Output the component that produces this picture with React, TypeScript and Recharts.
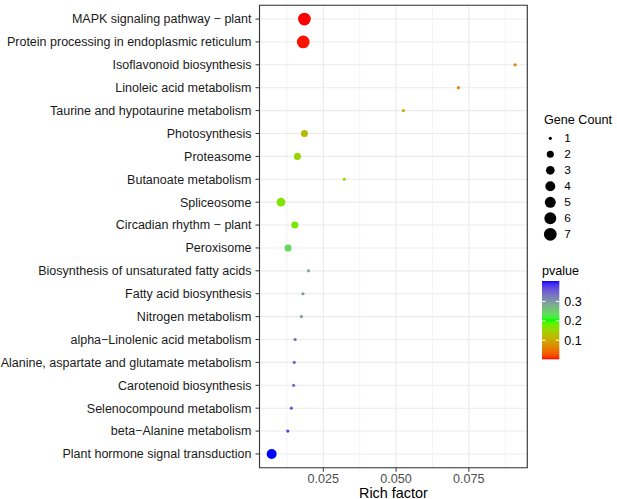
import React from 'react';
import {
  ScatterChart,
  Scatter,
  XAxis,
  YAxis,
  CartesianGrid,
  ReferenceArea,
  Customized,
} from 'recharts';

// KEGG pathway terms, listed top to bottom
const pathways: string[] = [
  'MAPK signaling pathway − plant',
  'Protein processing in endoplasmic reticulum',
  'Isoflavonoid biosynthesis',
  'Linoleic acid metabolism',
  'Taurine and hypotaurine metabolism',
  'Photosynthesis',
  'Proteasome',
  'Butanoate metabolism',
  'Spliceosome',
  'Circadian rhythm − plant',
  'Peroxisome',
  'Biosynthesis of unsaturated fatty acids',
  'Fatty acid biosynthesis',
  'Nitrogen metabolism',
  'alpha−Linolenic acid metabolism',
  'Alanine, aspartate and glutamate metabolism',
  'Carotenoid biosynthesis',
  'Selenocompound metabolism',
  'beta−Alanine metabolism',
  'Plant hormone signal transduction',
];

const richFactor: number[] = [
  0.0185, 0.0181, 0.0909, 0.0714, 0.0525, 0.0185, 0.0161, 0.0322, 0.01045, 0.0152,
  0.0129, 0.0199, 0.018, 0.01745, 0.0153, 0.015, 0.0148, 0.014, 0.0128, 0.00725,
];

const geneCount: number[] = [7, 7, 1, 1, 1, 2, 2, 1, 3, 2, 2, 1, 1, 1, 1, 1, 1, 1, 1, 4];

const pvalue: number[] = [
  0.002, 0.004, 0.062, 0.066, 0.105, 0.121, 0.153, 0.16, 0.171, 0.175,
  0.24, 0.284, 0.298, 0.295, 0.34, 0.342, 0.342, 0.355, 0.379, 0.405,
];

const xTicks: number[] = [0.025, 0.05, 0.075];
const xMinorTicks: number[] = [0.0125, 0.0375, 0.0625, 0.0875];
const sizeBreaks: number[] = [1, 2, 3, 4, 5, 6, 7];
const pvalueBreaks: number[] = [0.1, 0.2, 0.3];
const gradientColours: string[] = ['#FF0000', '#00FF00', '#0000FF'];

const FONT = '"Liberation Sans", Arial, Helvetica, sans-serif';

// ---- colour ramp interpolated in CIELAB ----
type Lab = [number, number, number];
const toLin = (c: number) => {
  const v = c / 255;
  return v <= 0.04045 ? v / 12.92 : Math.pow((v + 0.055) / 1.055, 2.4);
};
const fromLin = (c: number) => {
  const v = c <= 0.0031308 ? 12.92 * c : 1.055 * Math.pow(c, 1 / 2.4) - 0.055;
  return Math.round(Math.max(0, Math.min(1, v)) * 255);
};
const Xn = 0.95047, Yn = 1, Zn = 1.08883;
const fLab = (t: number) => (t > 0.008856 ? Math.cbrt(t) : 7.787 * t + 16 / 116);
const fInv = (t: number) => (t * t * t > 0.008856 ? t * t * t : (t - 16 / 116) / 7.787);

function hexToLab(hex: string): Lab {
  const r = toLin(parseInt(hex.slice(1, 3), 16));
  const g = toLin(parseInt(hex.slice(3, 5), 16));
  const b = toLin(parseInt(hex.slice(5, 7), 16));
  const X = 0.4124 * r + 0.3576 * g + 0.1805 * b;
  const Y = 0.2126 * r + 0.7152 * g + 0.0722 * b;
  const Z = 0.0193 * r + 0.1192 * g + 0.9505 * b;
  const fx = fLab(X / Xn), fy = fLab(Y / Yn), fz = fLab(Z / Zn);
  return [116 * fy - 16, 500 * (fx - fy), 200 * (fy - fz)];
}

function labToHex([L, a, b]: Lab): string {
  const fy = (L + 16) / 116;
  const fx = fy + a / 500;
  const fz = fy - b / 200;
  const X = Xn * fInv(fx), Y = Yn * fInv(fy), Z = Zn * fInv(fz);
  const r = 3.2406 * X - 1.5372 * Y - 0.4986 * Z;
  const g = -0.9689 * X + 1.8758 * Y + 0.0415 * Z;
  const bl = 0.0557 * X - 0.204 * Y + 1.057 * Z;
  const h = (v: number) => fromLin(v).toString(16).padStart(2, '0');
  return '#' + h(r) + h(g) + h(bl);
}

const labStops = gradientColours.map(hexToLab);
const pMin = Math.min(...pvalue);
const pMax = Math.max(...pvalue);

function pColour(p: number): string {
  const t = Math.max(0, Math.min(1, (p - pMin) / (pMax - pMin)));
  const seg = t * (labStops.length - 1);
  const i = Math.min(labStops.length - 2, Math.floor(seg));
  const f = seg - i;
  const A = labStops[i], B = labStops[i + 1];
  return labToHex([A[0] + (B[0] - A[0]) * f, A[1] + (B[1] - A[1]) * f, A[2] + (B[2] - A[2]) * f]);
}

// ---- point size by gene count (area scale) ----
const cMin = Math.min(...geneCount);
const cMax = Math.max(...geneCount);
function radius(c: number): number {
  const d = 3.2 + 9.5 * Math.sqrt((c - cMin) / (cMax - cMin));
  return d / 2;
}

// ---- data table ----
const n = pathways.length;
const points = pathways.map((name, i) => ({
  name,
  x: richFactor[i],
  y: n - i,
  count: geneCount[i],
  p: pvalue[i],
}));

const xLo = Math.min(...richFactor);
const xHi = Math.max(...richFactor);
const xPad = (xHi - xLo) * 0.05;
const xDomain: [number, number] = [xLo - xPad, xHi + xPad];
const yDomain: [number, number] = [0.4, n + 0.6];
const yTicks = pathways.map((_, i) => n - i);

const W = 617;
const H = 499;
const margin = { top: 5.3, right: 89.7, bottom: 0, left: 0 };

function Dot(props: any) {
  const { cx, cy, payload } = props;
  if (cx == null || cy == null) return null;
  return <circle cx={cx} cy={cy} r={radius(payload.count)} fill={pColour(payload.p)} />;
}

// single-line category label, right-aligned against the tick
function PathwayTick(props: any) {
  const { x, y, payload } = props;
  return (
    <text x={x} y={y} dy="0.35em" textAnchor="end" fontSize={12.5} fill="#1A1A1A" fontFamily={FONT}>
      {pathways[n - payload.value]}
    </text>
  );
}

// Gene Count and pvalue guides
function Guides() {
  const keyX = 550.3;
  const labelX = 564.3;
  const rowTop = 138.3;
  const rowStep = 16;
  const barX = 542;
  const barW = 17.3;
  const barTop = 281;
  const barH = 78.3;
  const barY = (v: number) => barTop + barH - ((v - pMin) / (pMax - pMin)) * barH;
  const stops = Array.from({ length: 41 }, (_, k) => k / 40);
  return (
    <g fontFamily={FONT}>
      <defs>
        <linearGradient id="pgrad" x1="0" y1="1" x2="0" y2="0">
          {stops.map((s) => (
            <stop key={s} offset={s} stopColor={pColour(pMin + s * (pMax - pMin))} />
          ))}
        </linearGradient>
      </defs>
      <text x={544} y={120} dy="0.35em" fontSize={12.6} fill="#000">
        Gene Count
      </text>
      {sizeBreaks.map((c, i) => (
        <g key={c}>
          <circle cx={keyX} cy={rowTop + i * rowStep} r={radius(c)} fill="#000" />
          <text x={labelX} y={rowTop + i * rowStep} dy="0.35em" fontSize={11.8} fill="#000">
            {c}
          </text>
        </g>
      ))}
      <text x={542} y={271} dy="0.35em" fontSize={12.6} fill="#000">
        pvalue
      </text>
      <rect x={barX} y={barTop} width={barW} height={barH} fill="url(#pgrad)" />
      {pvalueBreaks.map((v) => (
        <g key={v}>
          <line x1={barX} x2={barX + 3.5} y1={barY(v)} y2={barY(v)} stroke="#fff" strokeWidth={1} />
          <line x1={barX + barW - 3.5} x2={barX + barW} y1={barY(v)} y2={barY(v)} stroke="#fff" strokeWidth={1} />
          <text x={labelX} y={barY(v)} dy="0.35em" fontSize={12.5} fill="#000">
            {v.toFixed(1)}
          </text>
        </g>
      ))}
    </g>
  );
}

export default function App() {
  return (
    <div style={{ position: 'absolute', left: 0, top: 0, width: W, height: H, background: '#fff' }}>
      <ScatterChart width={W} height={H} margin={margin} style={{ fontFamily: FONT }}>
        <CartesianGrid
          xAxisId="minor"
          horizontal={false}
          stroke="#EBEBEB"
          strokeWidth={0.6}
        />
        <CartesianGrid stroke="#EBEBEB" strokeWidth={1.1} />
        <XAxis
          xAxisId="minor"
          type="number"
          dataKey="x"
          domain={xDomain}
          ticks={xMinorTicks}
          allowDataOverflow
          hide
        />
        <XAxis
          type="number"
          dataKey="x"
          domain={xDomain}
          ticks={xTicks}
          allowDataOverflow
          axisLine={false}
          tickSize={4}
          tickMargin={2}
          tickLine={{ stroke: '#333', strokeWidth: 1 }}
          tick={{ fill: '#4D4D4D', fontSize: 12.6 }}
          tickFormatter={(v: number) => v.toFixed(3)}
          height={31.3}
          label={{ value: 'Rich factor', position: 'insideBottom', offset: 1.5, fill: '#000', fontSize: 14.4 }}
        />
        <YAxis
          type="number"
          dataKey="y"
          domain={yDomain}
          ticks={yTicks}
          interval={0}
          allowDataOverflow
          axisLine={false}
          tickSize={4}
          tickMargin={4}
          tickLine={{ stroke: '#333', strokeWidth: 1 }}
          tick={<PathwayTick />}
          width={259.5}
        />
        <Scatter data={points} isAnimationActive={false} shape={<Dot />} />
        <ReferenceArea
          x1={xDomain[0]}
          x2={xDomain[1]}
          y1={yDomain[0]}
          y2={yDomain[1]}
          fill="none"
          stroke="#333"
          strokeWidth={1.1}
          ifOverflow="visible"
        />
        <Customized component={<Guides />} />
      </ScatterChart>
    </div>
  );
}
